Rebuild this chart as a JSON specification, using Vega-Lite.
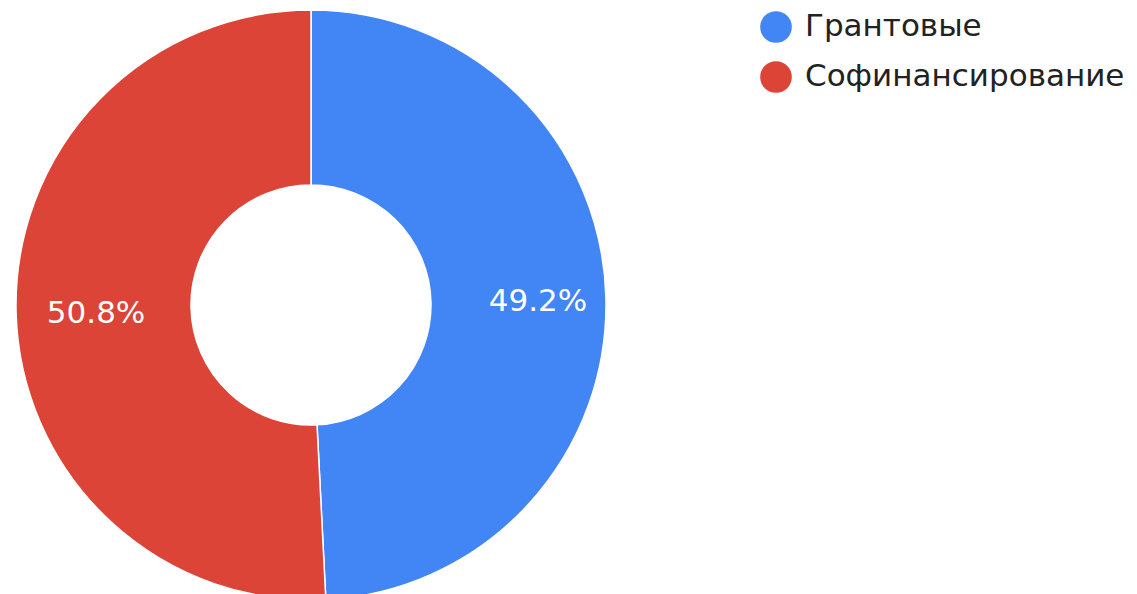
{
  "$schema": "https://vega.github.io/schema/vega-lite/v6.json",
  "width": 622,
  "height": 610,
  "padding": 0,
  "autosize": {"type": "pad"},
  "background": "white",
  "config": {"view": {"stroke": null}, "font": "DejaVu Sans"},
  "data": {
    "values": [
      {"category": "Грантовые", "share": 0.492, "order": 1},
      {"category": "Софинансирование", "share": 0.508, "order": 2}
    ]
  },
  "encoding": {
    "theta": {"field": "share", "type": "quantitative", "stack": true},
    "order": {"field": "order", "type": "quantitative"},
    "color": {
      "field": "category",
      "type": "nominal",
      "scale": {"domain": ["Грантовые", "Софинансирование"], "range": ["#4285F4", "#DB4437"]},
      "legend": {
        "title": null,
        "orient": "none",
        "legendX": 760,
        "legendY": 11,
        "padding": 0,
        "symbolType": "circle",
        "symbolSize": 1000,
        "symbolStrokeWidth": 0,
        "labelFont": "DejaVu Sans",
        "labelFontSize": 31,
        "labelColor": "#222222",
        "labelOffset": 13,
        "rowPadding": 18,
        "labelLimit": 500
      }
    }
  },
  "layer": [
    {
      "mark": {"type": "arc", "outerRadius": 295, "innerRadius": 120, "stroke": "white", "strokeWidth": 1.5}
    },
    {
      "mark": {"type": "text", "radius": 221, "dx": 6, "dy": 3, "fontSize": 31, "font": "DejaVu Sans", "color": "white", "align": "center", "baseline": "middle"},
      "encoding": {
        "text": {"field": "share", "type": "quantitative", "format": ".1%"},
        "color": {"value": "white"}
      }
    }
  ]
}
